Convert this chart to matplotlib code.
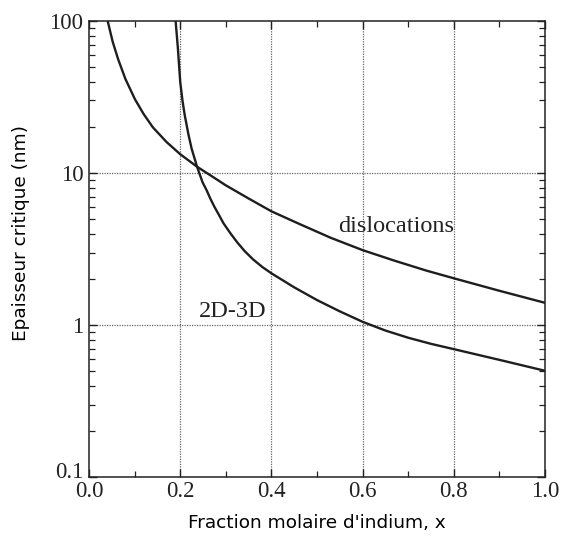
import numpy as np
import matplotlib
matplotlib.use("Agg")
import matplotlib.pyplot as plt
import matplotlib.transforms as mtransforms
from matplotlib.ticker import FixedLocator, LogLocator, NullFormatter, FixedFormatter

# values
disl_x = [0.041, 0.052, 0.064, 0.080, 0.101, 0.120, 0.140, 0.170, 0.200, 0.237,
          0.270, 0.300, 0.350, 0.400, 0.463, 0.530, 0.600, 0.670, 0.740, 0.800,
          0.900, 1.000]
disl_y = [100, 73, 56, 41.5, 30.5, 24.4, 20, 16.0, 13.3, 11.0,
          9.5, 8.3, 6.8, 5.6, 4.6, 3.75, 3.11, 2.65, 2.28, 2.03,
          1.68, 1.40]

trans_x = [0.190, 0.195, 0.200, 0.205, 0.210, 0.218, 0.225, 0.237, 0.249, 0.258,
           0.266, 0.275, 0.285, 0.295, 0.310, 0.325, 0.342, 0.360, 0.380, 0.400,
           0.450, 0.500, 0.550, 0.600, 0.650, 0.700, 0.750, 0.800, 0.900, 1.000]
trans_y = [100, 66, 40, 30, 24, 18, 14.5, 11.0, 8.7, 7.7,
           6.8, 6.0, 5.3, 4.67, 4.02, 3.50, 3.05, 2.70, 2.41, 2.19,
           1.77, 1.46, 1.23, 1.05, 0.92, 0.825, 0.752, 0.694, 0.59, 0.50]

xticks = [0.0, 0.2, 0.4, 0.6, 0.8, 1.0]
xtick_labels = ["0.0", "0.2", "0.4", "0.6", "0.8", "1.0"]
yticks = [0.1, 1, 10, 100]
ytick_labels = ["0.1", "1", "10", "100"]

serif = "Liberation Serif"

fig = plt.figure(figsize=(5.61, 5.36), dpi=100)
ax = fig.add_axes([0.1586, 0.110, 0.8129, 0.8508])

ax.plot(disl_x, disl_y, color="#1e1e1e", lw=1.7, solid_joinstyle="round")
ax.plot(trans_x, trans_y, color="#1e1e1e", lw=1.7, solid_joinstyle="round")

ax.set_yscale("log")
ax.set_xlim(0, 1)
ax.set_ylim(0.1, 100)

# grid only on the inner major values
for gx in [0.2, 0.4, 0.6, 0.8]:
    ax.axvline(gx, color="#666666", ls=(0, (1, 1)), lw=0.9, zorder=0)
for gy in [1, 10]:
    ax.axhline(gy, color="#666666", ls=(0, (1, 1)), lw=0.9, zorder=0)

ax.xaxis.set_major_locator(FixedLocator(xticks))
ax.xaxis.set_major_formatter(FixedFormatter(xtick_labels))
ax.xaxis.set_minor_locator(FixedLocator([0.1, 0.3, 0.5, 0.7, 0.9]))
ax.yaxis.set_major_locator(FixedLocator(yticks))
ax.yaxis.set_major_formatter(FixedFormatter(ytick_labels))
ax.yaxis.set_minor_locator(LogLocator(base=10, subs=np.arange(2, 10)))
ax.yaxis.set_minor_formatter(NullFormatter())

ax.tick_params(which="both", direction="in", top=True, right=True, colors="#222222")
ax.tick_params(which="major", length=6, width=1.0)
ax.tick_params(axis="x", which="major", pad=2.5)
ax.tick_params(axis="y", which="major", pad=4)
ax.tick_params(which="minor", length=4, width=0.9)
for lab in ax.get_xticklabels() + ax.get_yticklabels():
    lab.set_fontfamily(serif)
    lab.set_fontsize(16.5)

# lift the bottom y label a little, like the original
lift = mtransforms.ScaledTranslation(0, 5 / 72, fig.dpi_scale_trans)
ax.get_yticklabels()[0].set_transform(ax.get_yticklabels()[0].get_transform() + lift)

for sp in ax.spines.values():
    sp.set_linewidth(1.1)
    sp.set_color("#222222")

ax.text(0.546, 4.48, "dislocations", family=serif, fontsize=17.5, va="center", ha="left", color="#222222")
ax.text(0.241, 1.22, "2D-3D", family=serif, fontsize=17.5, va="center", ha="left", color="#222222")

ax.set_xlabel("Fraction molaire d'indium, x", family="DejaVu Sans", fontsize=13.3, labelpad=9)
ax.set_ylabel("Epaisseur critique (nm)", family="DejaVu Sans", fontsize=13.3, labelpad=14)
ax.yaxis.label.set_y(0.535)

fig.savefig("out.png", dpi=100)
